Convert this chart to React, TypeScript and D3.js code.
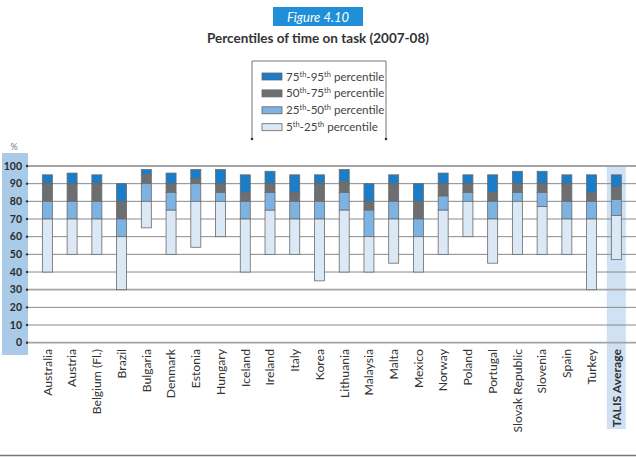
import * as d3 from 'd3'

const countries = [
  'Australia', 'Austria', 'Belgium (Fl.)', 'Brazil', 'Bulgaria', 'Denmark', 'Estonia', 'Hungary',
  'Iceland', 'Ireland', 'Italy', 'Korea', 'Lithuania', 'Malaysia', 'Malta', 'Mexico', 'Norway',
  'Poland', 'Portugal', 'Slovak Republic', 'Slovenia', 'Spain', 'Turkey', 'TALIS Average',
]
const p5 = [40, 50, 50, 30, 65, 50, 54, 60, 40, 50, 50, 35, 40, 40, 45, 40, 50, 60, 45, 50, 50, 50, 30, 47]
const p25 = [70, 70, 70, 60, 80, 75, 80, 80, 70, 75, 70, 70, 75, 60, 70, 60, 75, 80, 70, 80, 77, 70, 70, 72]
const p50 = [80, 80, 80, 70, 90, 85, 90, 85, 80, 85, 80, 80, 85, 75, 80, 70, 83, 85, 80, 85, 85, 80, 80, 81]
const p75 = [90, 90, 90, 80, 95, 90, 93, 90, 85, 90, 85, 90, 91, 80, 90, 80, 90, 90, 85, 90, 90, 90, 85, 88]
const p95 = [95, 96, 95, 90, 98, 96, 98, 98, 95, 97, 95, 95, 98, 90, 95, 90, 96, 95, 95, 97, 97, 95, 95, 95]

const yTicks = [0, 10, 20, 30, 40, 50, 60, 70, 80, 90, 100]

const segments = [
  { key: '75-95', lo: p75, hi: p95, color: '#1b7dc7', a: '75', b: '95' },
  { key: '50-75', lo: p50, hi: p75, color: '#6d6e70', a: '50', b: '75' },
  { key: '25-50', lo: p25, hi: p50, color: '#7db3e2', a: '25', b: '50' },
  { key: '5-25', lo: p5, hi: p25, color: '#dbe8f5', a: '5', b: '25' },
]

const W = 636
const H = 457
const font = 'Lato, "Open Sans", sans-serif'

export default function App() {
  const x = d3.scaleBand<string>().domain(countries).range([35, 628.7])
  const y = d3.scaleLinear().domain([0, 100]).range([342.7, 166])
  const barW = 10
  const cx = (c: string) => (x(c) ?? 0) + x.bandwidth() / 2
  const talis = countries[countries.length - 1]

  return (
    <svg width={W} height={H} style={{ position: 'absolute', left: 0, top: 0, background: '#fff' }}>
      {/* figure badge and title */}
      <rect x={273} y={7} width={90} height={19} fill="#1f8fd8" />
      <text x={318} y={21.5} textAnchor="middle" fill="#fff" fontFamily={font} fontStyle="italic" fontSize={13}>
        Figure 4.10
      </text>
      <text x={318} y={43} textAnchor="middle" fill="#333" fontFamily={font} fontWeight={700} fontSize={13.5}>
        Percentiles of time on task (2007-08)
      </text>

      {/* legend */}
      <path d="M252,139 V61 H386 V139" fill="none" stroke="#777" strokeWidth={1} />
      <circle cx={252} cy={139} r={1.3} fill="#333" />
      <circle cx={386} cy={139} r={1.3} fill="#333" />
      {segments.map((s, i) => (
        <g key={s.key} transform={`translate(262, ${77 + i * 16.9})`}>
          <rect x={0} y={-4} width={20} height={7} fill={s.color} stroke="#666" strokeWidth={0.8} />
          <text x={24} y={3.5} fill="#444" fontFamily={font} fontSize={11.6}>
            {s.a}
            <tspan fontSize={7.5} dy={-4}>th</tspan>
            <tspan dy={4}>-{s.b}</tspan>
            <tspan fontSize={7.5} dy={-4}>th</tspan>
            <tspan dy={4}> percentile</tspan>
          </text>
        </g>
      ))}

      {/* y-axis band and highlighted average column */}
      <rect x={2} y={153} width={26} height={202} fill="#a9cbe8" />
      <rect x={cx(talis) - 9.5} y={166} width={19} height={263} fill="#cfe1f2" />
      <text x={14} y={150} textAnchor="middle" fill="#777" fontFamily={font} fontSize={9}>%</text>

      {/* gridlines */}
      {yTicks.map((t) => {
        const heavy = t === 0 || t === 30 || t === 100
        return (
          <g key={t}>
            <line x1={27} x2={W} y1={y(t)} y2={y(t)} stroke={heavy ? '#a5a5a5' : '#8a8a8a'} strokeWidth={heavy ? 1.8 : 1} />
            <circle cx={27} cy={y(t)} r={1.2} fill="#333" />
            <text x={22} y={y(t) + 3.6} textAnchor="end" fill="#2b2b2b" fontFamily={font} fontWeight={700} fontSize={10.5}>
              {t}
            </text>
          </g>
        )
      })}

      {/* stacked percentile bars */}
      {countries.map((c, i) => (
        <g key={c}>
          {segments.map((s) => (
            <rect
              key={s.key}
              x={cx(c) - barW / 2}
              y={y(s.hi[i])}
              width={barW}
              height={y(s.lo[i]) - y(s.hi[i])}
              fill={s.color}
              stroke="#6a6a6a"
              strokeWidth={0.8}
            />
          ))}
        </g>
      ))}

      {/* category labels */}
      {countries.map((c) => (
        <text
          key={c}
          transform={`translate(${cx(c) + 4.3}, 349) rotate(-90)`}
          textAnchor="end"
          fill="#333"
          fontFamily={font}
          fontSize={12.2}
          fontWeight={c === talis ? 700 : 400}
        >
          {c}
        </text>
      ))}

      <line x1={0} x2={W} y1={455.5} y2={455.5} stroke="#777" strokeWidth={1.5} />
    </svg>
  )
}
